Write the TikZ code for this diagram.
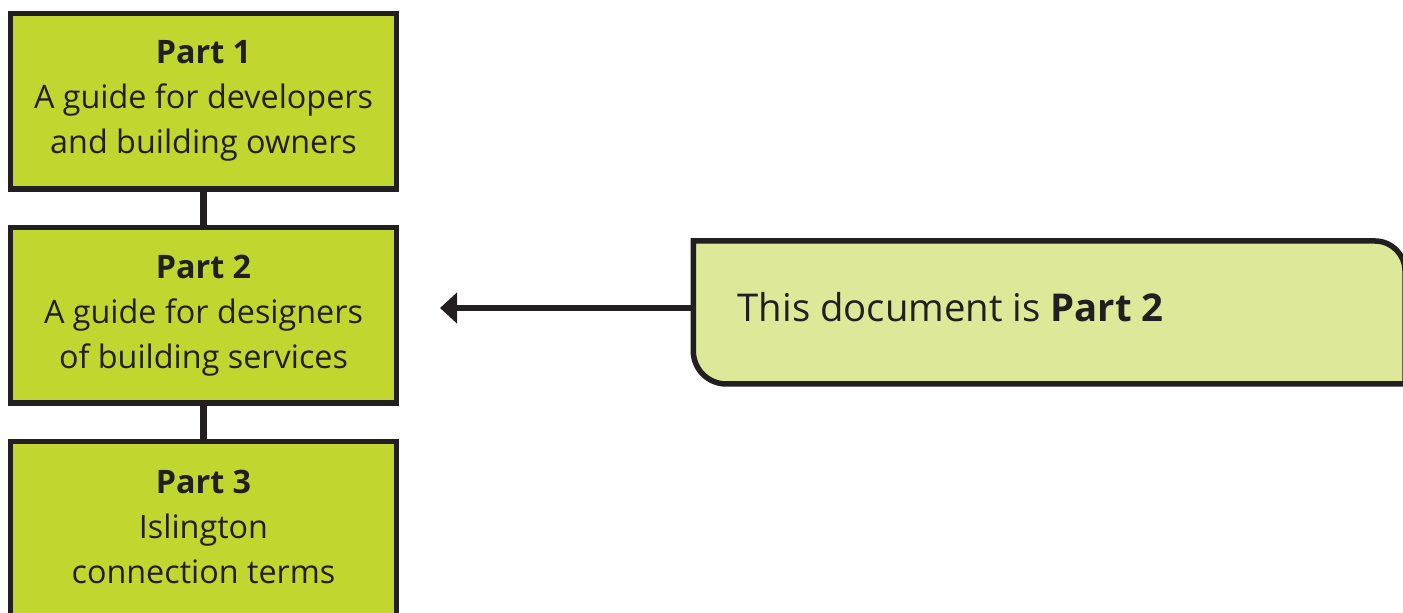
\documentclass[tikz,border=0pt]{standalone}
\usepackage{fontspec}
\setmainfont{Open Sans}
\usepackage{tikz}
\usetikzlibrary{arrows.meta, positioning}

\definecolor{partgreen}{HTML}{C1D72F}
\definecolor{notegreen}{HTML}{DDE899}
\definecolor{inkdark}{HTML}{231F20}

\begin{document}
\begin{tikzpicture}[
  node distance=0.385cm,
  part/.style={rectangle, draw=inkdark, line width=0.055cm, fill=partgreen, outer sep=0pt, minimum width=3.86cm, minimum height=1.755cm, align=center, font=\fontsize{9.2pt}{12.8pt}\selectfont, text=inkdark},
  notebox/.style={draw=inkdark, line width=0.055cm, fill=notegreen},
  link/.style={draw=inkdark, line width=0.065cm},
  arrow/.style={-{Triangle[length=0.17cm, width=0.30cm]}, draw=inkdark, fill=inkdark, line width=0.057cm},
]
\useasboundingbox (0,0) rectangle (14.03,-6.13);

% Parts
\node[part] (part1) at (2.035,-1.0125) {\textbf{Part 1}\\A guide for developers\\and building owners};
\node[part, below=of part1] (part2) {\textbf{Part 2}\\A guide for designers\\of building services};
\node[part, below=of part2, minimum height=1.79cm] (part3) {\textbf{Part 3}\\Islington\\connection terms\vphantom{g}};

% Note
\node[minimum width=7.117cm, minimum height=1.43cm, inner xsep=0.437cm, outer sep=0pt, text width=6.243cm, align=left, font=\fontsize{10.9pt}{13pt}\selectfont, text=inkdark] (note) at (10.4915,-3.125) {};
\draw[notebox] (note.north west) -- ([xshift=-0.30cm]note.north east) arc[start angle=90, end angle=0, radius=0.30cm] -- (note.south east) -- ([xshift=0.33cm]note.south west) arc[start angle=270, end angle=180, radius=0.33cm] -- cycle;
\node[anchor=base west, font=\fontsize{10.9pt}{13pt}\selectfont, text=inkdark, inner sep=0pt] (notetext) at (7.37,-3.22) {This document is \textbf{Part 2}};

% Connections
\coordinate (tip) at (4.40,-3.08);
\draw[link] (part1) -- (part2);
\draw[link] (part2) -- (part3);
\draw[arrow] (tip -| note.west) -- (tip);

\end{tikzpicture}
\end{document}
